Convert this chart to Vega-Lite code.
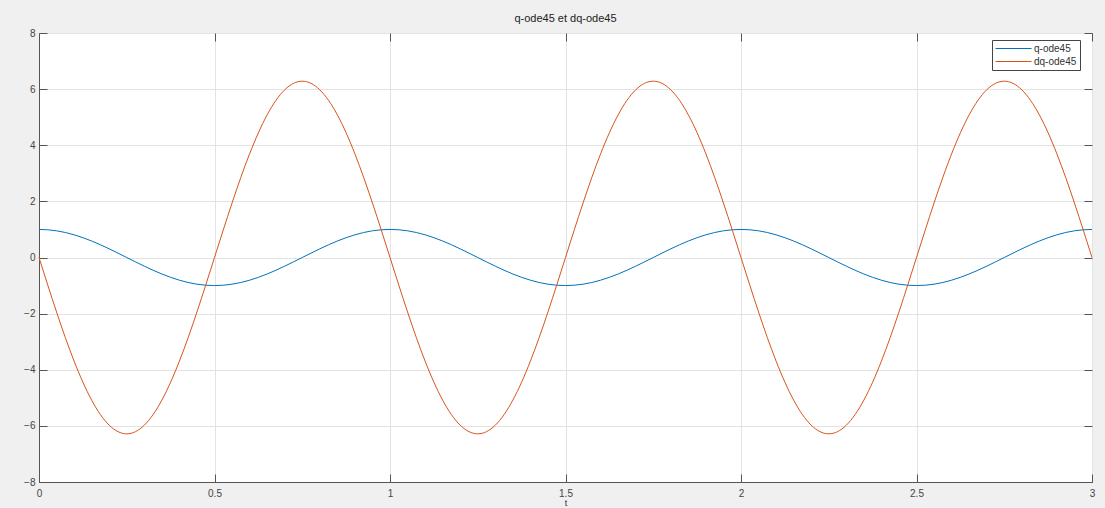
{
  "$schema": "https://vega.github.io/schema/vega-lite/v6.json",
  "autosize": "none",
  "width": 1053,
  "height": 449,
  "padding": {"left": 39, "top": 33, "right": 13, "bottom": 26},
  "background": "#f0f0f0",
  "title": {
    "text": "q-ode45 et dq-ode45",
    "fontSize": 11,
    "fontWeight": "normal",
    "font": "Liberation Sans",
    "color": "#222222",
    "anchor": "middle",
    "offset": 4
  },
  "config": {
    "view": {"fill": "white", "stroke": "#555555", "strokeWidth": 1},
    "font": "Liberation Sans",
    "axis": {
      "labelFont": "Liberation Sans",
      "labelFontSize": 10,
      "labelColor": "#444444",
      "domainColor": "#555555",
      "tickColor": "#555555",
      "gridColor": "#e3e3e3",
      "gridOpacity": 1,
      "tickSize": -8
    }
  },
  "data": {
    "values": [
      {"t":0,"q-ode45":1,"dq-ode45":0},
      {"t":0.025,"q-ode45":0.9877,"dq-ode45":-0.9829},
      {"t":0.05,"q-ode45":0.9511,"dq-ode45":-1.9416},
      {"t":0.075,"q-ode45":0.891,"dq-ode45":-2.8526},
      {"t":0.1,"q-ode45":0.809,"dq-ode45":-3.6932},
      {"t":0.125,"q-ode45":0.7071,"dq-ode45":-4.4429},
      {"t":0.15,"q-ode45":0.5878,"dq-ode45":-5.0832},
      {"t":0.175,"q-ode45":0.454,"dq-ode45":-5.5983},
      {"t":0.2,"q-ode45":0.309,"dq-ode45":-5.9757},
      {"t":0.225,"q-ode45":0.1564,"dq-ode45":-6.2058},
      {"t":0.25,"q-ode45":0,"dq-ode45":-6.2832},
      {"t":0.275,"q-ode45":-0.1564,"dq-ode45":-6.2058},
      {"t":0.3,"q-ode45":-0.309,"dq-ode45":-5.9757},
      {"t":0.325,"q-ode45":-0.454,"dq-ode45":-5.5983},
      {"t":0.35,"q-ode45":-0.5878,"dq-ode45":-5.0832},
      {"t":0.375,"q-ode45":-0.7071,"dq-ode45":-4.4429},
      {"t":0.4,"q-ode45":-0.809,"dq-ode45":-3.6932},
      {"t":0.425,"q-ode45":-0.891,"dq-ode45":-2.8526},
      {"t":0.45,"q-ode45":-0.9511,"dq-ode45":-1.9416},
      {"t":0.475,"q-ode45":-0.9877,"dq-ode45":-0.9829},
      {"t":0.5,"q-ode45":-1,"dq-ode45":0},
      {"t":0.525,"q-ode45":-0.9877,"dq-ode45":0.9829},
      {"t":0.55,"q-ode45":-0.9511,"dq-ode45":1.9416},
      {"t":0.575,"q-ode45":-0.891,"dq-ode45":2.8526},
      {"t":0.6,"q-ode45":-0.809,"dq-ode45":3.6932},
      {"t":0.625,"q-ode45":-0.7071,"dq-ode45":4.4429},
      {"t":0.65,"q-ode45":-0.5878,"dq-ode45":5.0832},
      {"t":0.675,"q-ode45":-0.454,"dq-ode45":5.5983},
      {"t":0.7,"q-ode45":-0.309,"dq-ode45":5.9757},
      {"t":0.725,"q-ode45":-0.1564,"dq-ode45":6.2058},
      {"t":0.75,"q-ode45":0,"dq-ode45":6.2832},
      {"t":0.775,"q-ode45":0.1564,"dq-ode45":6.2058},
      {"t":0.8,"q-ode45":0.309,"dq-ode45":5.9757},
      {"t":0.825,"q-ode45":0.454,"dq-ode45":5.5983},
      {"t":0.85,"q-ode45":0.5878,"dq-ode45":5.0832},
      {"t":0.875,"q-ode45":0.7071,"dq-ode45":4.4429},
      {"t":0.9,"q-ode45":0.809,"dq-ode45":3.6932},
      {"t":0.925,"q-ode45":0.891,"dq-ode45":2.8526},
      {"t":0.95,"q-ode45":0.9511,"dq-ode45":1.9416},
      {"t":0.975,"q-ode45":0.9877,"dq-ode45":0.9829},
      {"t":1,"q-ode45":1,"dq-ode45":0},
      {"t":1.025,"q-ode45":0.9877,"dq-ode45":-0.9829},
      {"t":1.05,"q-ode45":0.9511,"dq-ode45":-1.9416},
      {"t":1.075,"q-ode45":0.891,"dq-ode45":-2.8526},
      {"t":1.1,"q-ode45":0.809,"dq-ode45":-3.6932},
      {"t":1.125,"q-ode45":0.7071,"dq-ode45":-4.4429},
      {"t":1.15,"q-ode45":0.5878,"dq-ode45":-5.0832},
      {"t":1.175,"q-ode45":0.454,"dq-ode45":-5.5983},
      {"t":1.2,"q-ode45":0.309,"dq-ode45":-5.9757},
      {"t":1.225,"q-ode45":0.1564,"dq-ode45":-6.2058},
      {"t":1.25,"q-ode45":0,"dq-ode45":-6.2832},
      {"t":1.275,"q-ode45":-0.1564,"dq-ode45":-6.2058},
      {"t":1.3,"q-ode45":-0.309,"dq-ode45":-5.9757},
      {"t":1.325,"q-ode45":-0.454,"dq-ode45":-5.5983},
      {"t":1.35,"q-ode45":-0.5878,"dq-ode45":-5.0832},
      {"t":1.375,"q-ode45":-0.7071,"dq-ode45":-4.4429},
      {"t":1.4,"q-ode45":-0.809,"dq-ode45":-3.6932},
      {"t":1.425,"q-ode45":-0.891,"dq-ode45":-2.8526},
      {"t":1.45,"q-ode45":-0.9511,"dq-ode45":-1.9416},
      {"t":1.475,"q-ode45":-0.9877,"dq-ode45":-0.9829},
      {"t":1.5,"q-ode45":-1,"dq-ode45":0},
      {"t":1.525,"q-ode45":-0.9877,"dq-ode45":0.9829},
      {"t":1.55,"q-ode45":-0.9511,"dq-ode45":1.9416},
      {"t":1.575,"q-ode45":-0.891,"dq-ode45":2.8526},
      {"t":1.6,"q-ode45":-0.809,"dq-ode45":3.6932},
      {"t":1.625,"q-ode45":-0.7071,"dq-ode45":4.4429},
      {"t":1.65,"q-ode45":-0.5878,"dq-ode45":5.0832},
      {"t":1.675,"q-ode45":-0.454,"dq-ode45":5.5983},
      {"t":1.7,"q-ode45":-0.309,"dq-ode45":5.9757},
      {"t":1.725,"q-ode45":-0.1564,"dq-ode45":6.2058},
      {"t":1.75,"q-ode45":0,"dq-ode45":6.2832},
      {"t":1.775,"q-ode45":0.1564,"dq-ode45":6.2058},
      {"t":1.8,"q-ode45":0.309,"dq-ode45":5.9757},
      {"t":1.825,"q-ode45":0.454,"dq-ode45":5.5983},
      {"t":1.85,"q-ode45":0.5878,"dq-ode45":5.0832},
      {"t":1.875,"q-ode45":0.7071,"dq-ode45":4.4429},
      {"t":1.9,"q-ode45":0.809,"dq-ode45":3.6932},
      {"t":1.925,"q-ode45":0.891,"dq-ode45":2.8526},
      {"t":1.95,"q-ode45":0.9511,"dq-ode45":1.9416},
      {"t":1.975,"q-ode45":0.9877,"dq-ode45":0.9829},
      {"t":2,"q-ode45":1,"dq-ode45":0},
      {"t":2.025,"q-ode45":0.9877,"dq-ode45":-0.9829},
      {"t":2.05,"q-ode45":0.9511,"dq-ode45":-1.9416},
      {"t":2.075,"q-ode45":0.891,"dq-ode45":-2.8526},
      {"t":2.1,"q-ode45":0.809,"dq-ode45":-3.6932},
      {"t":2.125,"q-ode45":0.7071,"dq-ode45":-4.4429},
      {"t":2.15,"q-ode45":0.5878,"dq-ode45":-5.0832},
      {"t":2.175,"q-ode45":0.454,"dq-ode45":-5.5983},
      {"t":2.2,"q-ode45":0.309,"dq-ode45":-5.9757},
      {"t":2.225,"q-ode45":0.1564,"dq-ode45":-6.2058},
      {"t":2.25,"q-ode45":0,"dq-ode45":-6.2832},
      {"t":2.275,"q-ode45":-0.1564,"dq-ode45":-6.2058},
      {"t":2.3,"q-ode45":-0.309,"dq-ode45":-5.9757},
      {"t":2.325,"q-ode45":-0.454,"dq-ode45":-5.5983},
      {"t":2.35,"q-ode45":-0.5878,"dq-ode45":-5.0832},
      {"t":2.375,"q-ode45":-0.7071,"dq-ode45":-4.4429},
      {"t":2.4,"q-ode45":-0.809,"dq-ode45":-3.6932},
      {"t":2.425,"q-ode45":-0.891,"dq-ode45":-2.8526},
      {"t":2.45,"q-ode45":-0.9511,"dq-ode45":-1.9416},
      {"t":2.475,"q-ode45":-0.9877,"dq-ode45":-0.9829},
      {"t":2.5,"q-ode45":-1,"dq-ode45":0},
      {"t":2.525,"q-ode45":-0.9877,"dq-ode45":0.9829},
      {"t":2.55,"q-ode45":-0.9511,"dq-ode45":1.9416},
      {"t":2.575,"q-ode45":-0.891,"dq-ode45":2.8526},
      {"t":2.6,"q-ode45":-0.809,"dq-ode45":3.6932},
      {"t":2.625,"q-ode45":-0.7071,"dq-ode45":4.4429},
      {"t":2.65,"q-ode45":-0.5878,"dq-ode45":5.0832},
      {"t":2.675,"q-ode45":-0.454,"dq-ode45":5.5983},
      {"t":2.7,"q-ode45":-0.309,"dq-ode45":5.9757},
      {"t":2.725,"q-ode45":-0.1564,"dq-ode45":6.2058},
      {"t":2.75,"q-ode45":0,"dq-ode45":6.2832},
      {"t":2.775,"q-ode45":0.1564,"dq-ode45":6.2058},
      {"t":2.8,"q-ode45":0.309,"dq-ode45":5.9757},
      {"t":2.825,"q-ode45":0.454,"dq-ode45":5.5983},
      {"t":2.85,"q-ode45":0.5878,"dq-ode45":5.0832},
      {"t":2.875,"q-ode45":0.7071,"dq-ode45":4.4429},
      {"t":2.9,"q-ode45":0.809,"dq-ode45":3.6932},
      {"t":2.925,"q-ode45":0.891,"dq-ode45":2.8526},
      {"t":2.95,"q-ode45":0.9511,"dq-ode45":1.9416},
      {"t":2.975,"q-ode45":0.9877,"dq-ode45":0.9829},
      {"t":3,"q-ode45":1,"dq-ode45":0}
    ]
  },
  "transform": [
    {"fold": ["q-ode45", "dq-ode45"], "as": ["serie", "valeur"]}
  ],
  "resolve": {"axis": {"x": "independent", "y": "independent"}},
  "layer": [
    {
      "mark": {"type": "line", "strokeWidth": 1, "interpolate": "monotone"},
      "encoding": {
        "x": {
          "field": "t",
          "type": "quantitative",
          "scale": {"domain": [0, 3], "nice": false, "zero": false},
          "axis": {
            "title": "t",
            "titleFontSize": 9,
            "titleFontWeight": "normal",
            "titleColor": "#333333",
            "titlePadding": 0,
            "values": [0, 0.5, 1, 1.5, 2, 2.5, 3],
            "format": "~g",
            "grid": true,
            "labelPadding": 14,
            "labelFlush": false
          }
        },
        "y": {
          "field": "valeur",
          "type": "quantitative",
          "scale": {"domain": [-8, 8], "nice": false},
          "axis": {
            "title": null,
            "values": [-8, -6, -4, -2, 0, 2, 4, 6, 8],
            "grid": true,
            "labelPadding": 12
          }
        },
        "color": {
          "field": "serie",
          "type": "nominal",
          "sort": ["q-ode45", "dq-ode45"],
          "scale": {"domain": ["q-ode45", "dq-ode45"], "range": ["#0072BD", "#D95319"]},
          "legend": {
            "title": null,
            "orient": "none",
            "legendX": 953,
            "legendY": 7,
            "symbolType": "M-1,0H6.2",
            "symbolSize": 100,
            "symbolStrokeWidth": 1,
            "labelFontSize": 10,
            "labelColor": "#333333",
            "fillColor": "white",
            "strokeColor": "#444444",
            "padding": 3,
            "rowPadding": 2,
            "labelOffset": 28
          }
        }
      }
    },
    {
      "mark": {"type": "line", "opacity": 0},
      "encoding": {
        "x": {
          "field": "t",
          "type": "quantitative",
          "axis": {"orient": "top", "title": null, "labels": false, "grid": false, "domain": false, "values": [0, 0.5, 1, 1.5, 2, 2.5, 3]}
        },
        "y": {
          "field": "valeur",
          "type": "quantitative",
          "axis": {"orient": "right", "title": null, "labels": false, "grid": false, "domain": false, "values": [-8, -6, -4, -2, 0, 2, 4, 6, 8]}
        },
        "detail": {"field": "serie", "type": "nominal"}
      }
    }
  ]
}
